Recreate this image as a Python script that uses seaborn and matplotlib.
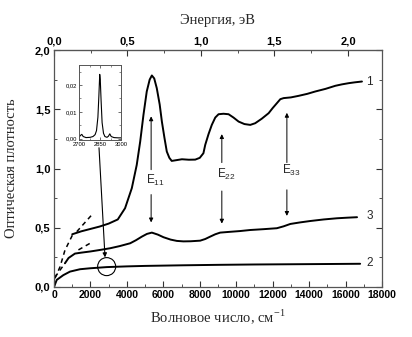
import numpy as np
import pandas as pd
import matplotlib
matplotlib.use("Agg")
import matplotlib.pyplot as plt
from matplotlib.patches import Ellipse
from matplotlib.ticker import MultipleLocator, FixedLocator, FixedFormatter
import seaborn as sns

# ---------------- data ----------------
c1_x = [1000, 1500, 2000, 2500, 3000, 3500, 3900, 4270, 4540, 4730, 4910, 5090, 5250, 5370,
        5500, 5640, 5800, 5920, 6060, 6190, 6330, 6460, 6700, 7020, 7400, 7750, 8000, 8200,
        8300, 8480, 8660, 8850, 9030, 9300, 9580, 9850, 10130, 10450, 10770, 11040, 11400,
        11780, 12000, 12230, 12420, 12600, 13000, 13420, 13900, 14340, 14900, 15440, 15800,
        16170, 16500, 16900]
c1_y = [0.445, 0.47, 0.49, 0.51, 0.535, 0.57, 0.665, 0.834, 1.03, 1.227, 1.453, 1.65, 1.75, 1.785,
        1.76, 1.678, 1.54, 1.396, 1.26, 1.143, 1.09, 1.064, 1.07, 1.078, 1.074, 1.075, 1.09, 1.129,
        1.20, 1.29, 1.368, 1.43, 1.458, 1.462, 1.458, 1.43, 1.396, 1.375, 1.368, 1.382, 1.42,
        1.467, 1.51, 1.551, 1.585, 1.594, 1.60, 1.613, 1.63, 1.65, 1.672, 1.698, 1.71,
        1.72, 1.727, 1.734]
c1_dash_lo_x = [50, 330, 600, 1060]
c1_dash_lo_y = [0.073, 0.17, 0.31, 0.453]
c1_dash_hi_x = [1250, 2070]
c1_dash_hi_y = [0.467, 0.608]

c3_x = [600, 800, 1150, 1500, 2000, 2500, 3080, 3600, 4180, 4500, 4820, 5100, 5370, 5700,
        6010, 6400, 6740, 7100, 7500, 8020, 8300, 8570, 8850, 9120, 9600, 10200, 10770,
        11500, 12230, 12600, 12970, 13500, 14070, 14800, 15530, 16100, 16630]
c3_y = [0.20, 0.245, 0.282, 0.29, 0.30, 0.312, 0.327, 0.345, 0.369, 0.395, 0.425, 0.448, 0.459, 0.442,
        0.42, 0.40, 0.389, 0.385, 0.386, 0.391, 0.405, 0.425, 0.445, 0.459, 0.465, 0.472, 0.481,
        0.488, 0.496, 0.512, 0.532, 0.545, 0.557, 0.57, 0.58, 0.585, 0.589]
c3_dash_lo_x = [50, 320, 600]
c3_dash_lo_y = [0.082, 0.14, 0.20]
c3_dash_hi_x = [1340, 1980]
c3_dash_hi_y = [0.313, 0.369]

c2_x = [0, 150, 510, 880, 1430, 1980, 2900, 4000, 5000, 7000, 9000, 11000, 13000, 15000, 16800]
c2_y = [0.0, 0.06, 0.10, 0.13, 0.15, 0.158, 0.168, 0.174, 0.178, 0.183, 0.187, 0.19, 0.192, 0.194, 0.196]

inset_x = [2700, 2710, 2720, 2730, 2750, 2780, 2800, 2815, 2825, 2835, 2842, 2848, 2852,
           2858, 2865, 2875, 2885, 2900, 2910, 2920, 2930, 2950, 2980, 3000]
inset_y = [0.0005, 0.0012, 0.0016, 0.0008, 0.0004, 0.0005, 0.0008, 0.0015, 0.003, 0.008, 0.016,
           0.024, 0.022, 0.014, 0.006, 0.002, 0.0008, 0.0005, 0.0009, 0.0018, 0.0008, 0.0004,
           0.0003, 0.0003]

curve_labels = ["1", "3", "2"]
curve_label_x = [17150, 17150, 17150]
curve_label_y = [1.734, 0.595, 0.2]

trans_names = ["E$_\\mathregular{11}$", "E$_\\mathregular{22}$", "E$_\\mathregular{33}$"]
trans_x = [5330, 9210, 12780]
trans_label_y = [0.90, 0.95, 0.98]
arrow_up_from = [0.99, 1.05, 1.05]
arrow_up_to = [1.44, 1.29, 1.47]
arrow_dn_from = [0.78, 0.81, 0.82]
arrow_dn_to = [0.545, 0.535, 0.60]

y_ticks = [0.0, 0.5, 1.0, 1.5, 2.0]
y_tick_labels = ["0,0", "0,5", "1,0", "1,5", "2,0"]
x_ticks = [0, 2000, 4000, 6000, 8000, 10000, 12000, 14000, 16000, 18000]
x_tick_labels = [str(v) for v in x_ticks]
ev_ticks = [0.0, 0.5, 1.0, 1.5, 2.0]
ev_tick_labels = ["0,0", "0,5", "1,0", "1,5", "2,0"]
inset_yticks = [0.0, 0.01, 0.02]
inset_ytick_labels = ["0,00", "0,01", "0,02"]
inset_xticks = [2700, 2850, 3000]
inset_xtick_labels = ["2700", "2850", "3000"]

CM_PER_EV = 8065.5

# ---------------- figure ----------------
sns.set_style("ticks")
plt.rcParams['font.family'] = ['Liberation Sans', 'DejaVu Sans']

fig = plt.figure(figsize=(4.12, 3.37), dpi=100)
ax = fig.add_axes([54 / 412, 50 / 337, 328 / 412, 237 / 337])

lw = 1.4
col = "black"
for xs, ys in [(c1_x, c1_y), (c3_x, c3_y), (c2_x, c2_y)]:
    sns.lineplot(x=xs, y=ys, ax=ax, color=col, lw=lw, sort=False, estimator=None)
for xs, ys in [(c1_dash_lo_x, c1_dash_lo_y), (c1_dash_hi_x, c1_dash_hi_y),
               (c3_dash_lo_x, c3_dash_lo_y), (c3_dash_hi_x, c3_dash_hi_y)]:
    sns.lineplot(x=xs, y=ys, ax=ax, color=col, lw=1.1, sort=False, estimator=None,
                 linestyle=(0, (3, 2.5)))

ax.set_xlim(0, 18000)
ax.set_ylim(0, 2.0)
ax.xaxis.set_major_locator(FixedLocator(x_ticks))
ax.xaxis.set_major_formatter(FixedFormatter(x_tick_labels))
ax.xaxis.set_minor_locator(MultipleLocator(1000))
ax.yaxis.set_major_locator(FixedLocator(y_ticks))
ax.yaxis.set_major_formatter(FixedFormatter(y_tick_labels))
ax.yaxis.set_minor_locator(MultipleLocator(0.25))
ax.tick_params(axis='both', which='both', direction='in', top=False, right=True,
               colors='#333333', labelcolor='black')
ax.tick_params(axis='both', which='major', length=4, width=0.8, labelsize=7.5, pad=2.5)
ax.tick_params(axis='both', which='minor', length=2.2, width=0.6)
ax.tick_params(axis='y', which='major', labelsize=8)
for lab in ax.get_xticklabels() + ax.get_yticklabels():
    lab.set_fontweight('bold')
for sp in ax.spines.values():
    sp.set_color('#555555')
    sp.set_linewidth(0.9)
    sp.set_visible(True)

serif = ['Liberation Serif', 'DejaVu Serif']
ax.set_xlabel("Волновое число, см$^{\\mathregular{-1}}$", family=serif, fontsize=10.5, labelpad=5)
ax.set_ylabel("Оптическая плотность", family=serif, fontsize=10.5, labelpad=12)

top = ax.secondary_xaxis('top', functions=(lambda w: w / CM_PER_EV, lambda e: e * CM_PER_EV))
top.xaxis.set_major_locator(FixedLocator(ev_ticks))
top.xaxis.set_major_formatter(FixedFormatter(ev_tick_labels))
top.xaxis.set_minor_locator(MultipleLocator(0.25))
top.tick_params(axis='x', which='both', direction='in', colors='#333333', labelcolor='black')
top.tick_params(axis='x', which='major', length=4, width=0.8, labelsize=8, pad=2.5)
top.tick_params(axis='x', which='minor', length=2.2, width=0.6)
for lab in top.get_xticklabels():
    lab.set_fontweight('bold')
top.spines['top'].set_color('#555555')
top.set_xlabel("Энергия, эВ", family=serif, fontsize=10.5, labelpad=9)

# curve labels
for t, xx, yy in zip(curve_labels, curve_label_x, curve_label_y):
    ax.text(xx, yy, t, fontsize=8.5, va='center', ha='left')

# transitions
for name, xx, ly, uf, ut, df, dt in zip(trans_names, trans_x, trans_label_y, arrow_up_from,
                                         arrow_up_to, arrow_dn_from, arrow_dn_to):
    ax.text(xx + 250, ly, name, fontsize=8.5, ha='center', va='center')
    ax.annotate("", xy=(xx, ut), xytext=(xx, uf),
                arrowprops=dict(arrowstyle='-|>', lw=0.7, color='black', mutation_scale=6,
                                shrinkA=0, shrinkB=0))
    ax.annotate("", xy=(xx, dt), xytext=(xx, df),
                arrowprops=dict(arrowstyle='-|>', lw=0.7, color='black', mutation_scale=6,
                                shrinkA=0, shrinkB=0))

# circle around the C-H feature and the pointer line
circ_center = (2890, 0.172)
ax.add_patch(Ellipse(circ_center, width=990, height=0.152, fill=False, lw=0.8, color='black'))
ax.annotate("", xy=(2800, 0.25), xytext=(2470, 1.175),
            arrowprops=dict(arrowstyle='-|>', lw=0.8, color='black', mutation_scale=6,
                            shrinkA=0, shrinkB=0))

# inset
axi = fig.add_axes([79 / 412, (337 - 140) / 337, 42 / 412, 75 / 337])
sns.lineplot(x=inset_x, y=inset_y, ax=axi, color='black', lw=0.8, sort=False, estimator=None)
axi.set_xlim(2700, 3000)
axi.set_ylim(-0.0005, 0.0275)
axi.xaxis.set_major_locator(FixedLocator(inset_xticks))
axi.xaxis.set_major_formatter(FixedFormatter(inset_xtick_labels))
axi.xaxis.set_minor_locator(MultipleLocator(75))
axi.yaxis.set_major_locator(FixedLocator(inset_yticks))
axi.yaxis.set_major_formatter(FixedFormatter(inset_ytick_labels))
axi.yaxis.set_minor_locator(MultipleLocator(0.005))
axi.tick_params(axis='both', which='both', direction='in', top=True, right=True, colors='#333333',
                labelcolor='black', labelsize=4.2, pad=1.2)
axi.tick_params(axis='both', which='major', length=2, width=0.5)
axi.tick_params(axis='both', which='minor', length=1.2, width=0.4)
for sp in axi.spines.values():
    sp.set_color('#555555')
    sp.set_linewidth(0.7)
    sp.set_visible(True)

fig.savefig("out.png", dpi=100)
